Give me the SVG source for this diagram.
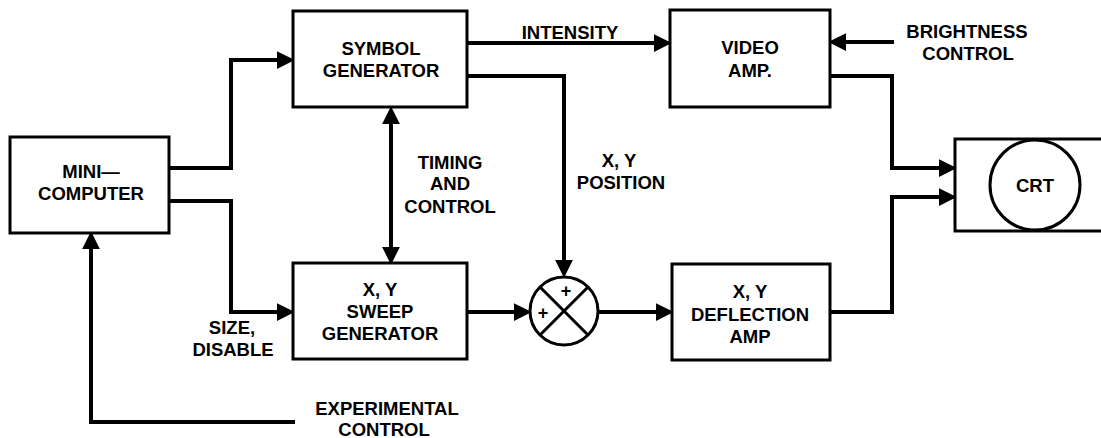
<svg xmlns="http://www.w3.org/2000/svg" width="1101" height="438" viewBox="0 0 1101 438">
<style>
.box{fill:#fff;stroke:#000;stroke-width:3}
.ln{fill:none;stroke:#000;stroke-width:4;stroke-linejoin:miter}
.t{font-family:"Liberation Sans",Arial,sans-serif;font-weight:bold;font-size:18.5px;fill:#000;text-anchor:middle}
.p{font-family:"Liberation Sans",Arial,sans-serif;font-weight:bold;font-size:18px;fill:#000;text-anchor:middle}
</style>
<defs>
<marker id="ah" markerUnits="userSpaceOnUse" markerWidth="18" markerHeight="18" refX="2" refY="8" orient="auto-start-reverse" viewBox="0 0 16 16">
<path d="M0,0 L16,8 L0,16 z" fill="#000"/>
</marker>
</defs>
<rect width="1101" height="438" fill="#fff"/>
<g id="connectors">
<path class="ln" d="M169,168 H231 V60 H279" marker-end="url(#ah)"/>
<path class="ln" d="M169,201 H231 V312 H279" marker-end="url(#ah)"/>
<path class="ln" d="M391,122 V249" marker-start="url(#ah)" marker-end="url(#ah)"/>
<path class="ln" d="M467,43 H656" marker-end="url(#ah)"/>
<path class="ln" d="M467,76 H564 V262" marker-end="url(#ah)"/>
<path class="ln" d="M467,312 H516" marker-end="url(#ah)"/>
<path class="ln" d="M598,312 H658" marker-end="url(#ah)"/>
<path class="ln" d="M894,42 H844" marker-end="url(#ah)"/>
<path class="ln" d="M830,76 H892 V168 H941" marker-end="url(#ah)"/>
<path class="ln" d="M830,312 H892 V197 H941" marker-end="url(#ah)"/>
<path class="ln" d="M295,422 H91 V247" marker-end="url(#ah)"/>
</g>
<g id="minicomputer">
<rect class="box" x="10" y="137" width="159" height="96"/>
<text class="t" x="91" y="178">MINI—</text>
<text class="t" x="91" y="200">COMPUTER</text>
</g>
<g id="symbol-generator">
<rect class="box" x="293" y="11" width="174" height="96"/>
<text class="t" x="381" y="55">SYMBOL</text>
<text class="t" x="381" y="77">GENERATOR</text>
</g>
<g id="sweep-generator">
<rect class="box" x="293" y="263" width="174" height="96"/>
<text class="t" x="380" y="296">X, Y</text>
<text class="t" x="380" y="318">SWEEP</text>
<text class="t" x="380" y="340">GENERATOR</text>
</g>
<g id="video-amp">
<rect class="box" x="670" y="10" width="160" height="97"/>
<text class="t" x="750" y="54">VIDEO</text>
<text class="t" x="750" y="77">AMP.</text>
</g>
<g id="deflection-amp">
<rect class="box" x="672" y="264" width="158" height="96"/>
<text class="t" x="750" y="298">X, Y</text>
<text class="t" x="750" y="321">DEFLECTION</text>
<text class="t" x="750" y="343">AMP</text>
</g>
<g id="summing-junction">
<circle cx="564" cy="311" r="34" fill="#fff" stroke="#000" stroke-width="3"/>
<line x1="540" y1="287" x2="588" y2="335" stroke="#000" stroke-width="3"/>
<line x1="588" y1="287" x2="540" y2="335" stroke="#000" stroke-width="3"/>
<text class="p" x="566" y="297">+</text>
<text class="p" x="543" y="319">+</text>
</g>
<g id="crt">
<path d="M1103,139 H955 V231 H1103" fill="#fff" stroke="#000" stroke-width="3"/>
<circle cx="1035" cy="185" r="45" fill="#fff" stroke="#000" stroke-width="3"/>
<text class="t" x="1035" y="192">CRT</text>
</g>
<g id="labels">
<text class="t" x="570" y="39">INTENSITY</text>
<text class="t" x="967" y="38">BRIGHTNESS</text>
<text class="t" x="968" y="60">CONTROL</text>
<text class="t" x="450" y="169">TIMING</text>
<text class="t" x="450" y="190">AND</text>
<text class="t" x="450" y="213">CONTROL</text>
<text class="t" x="619" y="167">X, Y</text>
<text class="t" x="621" y="189">POSITION</text>
<text class="t" x="232" y="334">SIZE,</text>
<text class="t" x="233" y="356">DISABLE</text>
<text class="t" x="387" y="415">EXPERIMENTAL</text>
<text class="t" x="384" y="436">CONTROL</text>
</g>
</svg>
